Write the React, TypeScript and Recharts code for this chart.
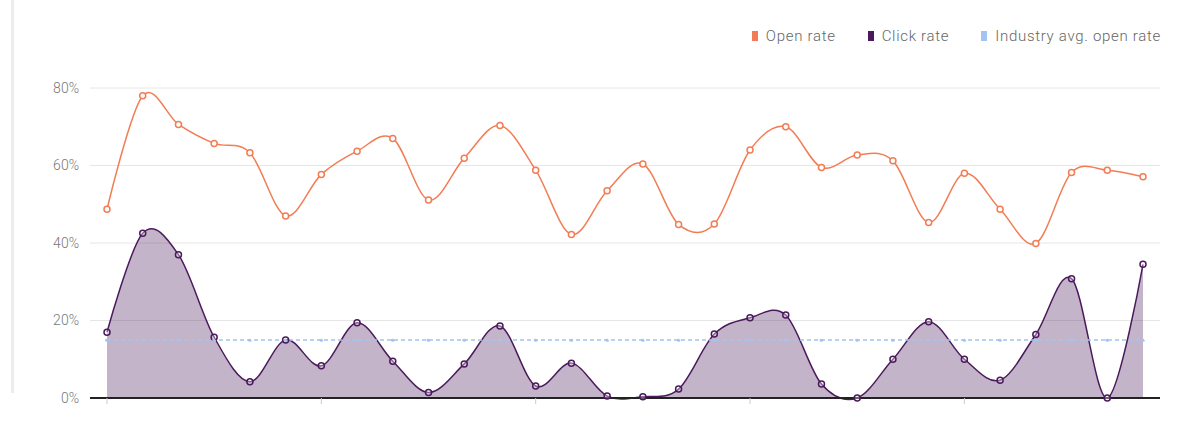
import React from 'react';
import { ComposedChart, Area, Line, XAxis, YAxis, CartesianGrid } from 'recharts';

const weeks = ['W1', 'W2', 'W3', 'W4', 'W5', 'W6', 'W7', 'W8', 'W9', 'W10', 'W11', 'W12', 'W13', 'W14', 'W15',
  'W16', 'W17', 'W18', 'W19', 'W20', 'W21', 'W22', 'W23', 'W24', 'W25', 'W26', 'W27', 'W28', 'W29', 'W30'];
const openRate = [48.7, 78, 70.6, 65.7, 63.3, 47, 57.7, 63.7, 67, 51.1, 61.9, 70.3, 58.8, 42.2, 53.5,
  60.4, 44.8, 44.9, 64, 70, 59.5, 62.7, 61.2, 45.3, 58, 48.7, 39.9, 58.2, 58.8, 57.1];
const clickRate = [17, 42.5, 37, 15.7, 4.2, 15, 8.3, 19.4, 9.5, 1.4, 8.8, 18.6, 3.1, 9, 0.5,
  0.3, 2.3, 16.5, 20.7, 21.4, 3.6, 0, 10, 19.7, 10, 4.6, 16.4, 30.8, 0, 34.5];
const industryAvg = [15, 15, 15, 15, 15, 15, 15, 15, 15, 15, 15, 15, 15, 15, 15,
  15, 15, 15, 15, 15, 15, 15, 15, 15, 15, 15, 15, 15, 15, 15];
const yTicks = [0, 20, 40, 60, 80];
const xTicks = ['W1', 'W7', 'W13', 'W19', 'W25'];

const ORANGE = '#f27d55';
const PURPLE = '#4b1a5c';
const BLUE = '#a3c4f0';

const data = weeks.map((w, i) => ({
  week: w,
  open: openRate[i],
  click: clickRate[i],
  industry: industryAvg[i],
}));

// cardinal spline (tension 0), same interface as a d3 curve
class Cardinal {
  _context: any; _k: number; _line: number = NaN; _point = 0;
  _x0 = NaN; _x1 = NaN; _x2 = NaN; _y0 = NaN; _y1 = NaN; _y2 = NaN;
  constructor(context: any, tension: number) {
    this._context = context;
    this._k = (1 - tension) / 6;
  }
  areaStart() { this._line = 0; }
  areaEnd() { this._line = NaN; }
  lineStart() {
    this._x0 = this._x1 = this._x2 = this._y0 = this._y1 = this._y2 = NaN;
    this._point = 0;
  }
  seg(x: number, y: number) {
    this._context.bezierCurveTo(
      this._x1 + this._k * (this._x2 - this._x0),
      this._y1 + this._k * (this._y2 - this._y0),
      this._x2 + this._k * (this._x1 - x),
      this._y2 + this._k * (this._y1 - y),
      this._x2, this._y2);
  }
  lineEnd() {
    switch (this._point) {
      case 2: this._context.lineTo(this._x2, this._y2); break;
      case 3: this.seg(this._x1, this._y1); break;
    }
    if (this._line || (this._line !== 0 && this._point === 1)) this._context.closePath();
    this._line = 1 - this._line;
  }
  point(x: number, y: number) {
    x = +x; y = +y;
    switch (this._point) {
      case 0: this._point = 1; this._line ? this._context.lineTo(x, y) : this._context.moveTo(x, y); break;
      case 1: this._point = 2; this._x1 = x; this._y1 = y; break;
      case 2: this._point = 3; this.seg(x, y); break;
      default: this.seg(x, y); break;
    }
    this._x0 = this._x1; this._x1 = this._x2; this._x2 = x;
    this._y0 = this._y1; this._y1 = this._y2; this._y2 = y;
  }
}
const smooth: any = (context: any) => new Cardinal(context, 0);

const legendItems = [
  { name: 'Open rate', color: ORANGE },
  { name: 'Click rate', color: PURPLE },
  { name: 'Industry avg. open rate', color: BLUE },
];

export default function App() {
  return (
    <div style={{ position: 'absolute', left: 0, top: 0, width: 1177, height: 421, background: '#fff', fontFamily: 'Roboto, sans-serif' }}>
      <div style={{ position: 'absolute', left: 11, top: 0, width: 3, height: 393, background: '#ececec' }} />
      <div style={{ position: 'absolute', right: 16, top: 27, display: 'flex', alignItems: 'center', gap: 32, fontSize: 15, fontWeight: 300, letterSpacing: 0.7, color: '#666' }}>
        {legendItems.map((it) => (
          <div key={it.name} style={{ display: 'flex', alignItems: 'center', gap: 8 }}>
            <span style={{ display: 'inline-block', width: 6, height: 10, background: it.color }} />
            <span>{it.name}</span>
          </div>
        ))}
      </div>
      <ComposedChart width={1177} height={421} data={data} margin={{ top: 88, right: 17, bottom: 13, left: 30 }}>
        <CartesianGrid vertical={false} stroke="#e6e6e6" />
        <XAxis dataKey="week" ticks={xTicks} tickFormatter={() => ''} height={10} padding={{ left: 17, right: 17 }}
          axisLine={{ stroke: '#222', strokeWidth: 2 }} tickLine={{ stroke: '#ccc' }} tickSize={6} />
        <YAxis domain={[0, 80]} ticks={yTicks} width={60} axisLine={false} tickLine={false} tickMargin={5}
          tickFormatter={(v) => `${v}%`} tick={{ fill: '#777', fontSize: 14, fontWeight: 300 }} />
        <Area dataKey="click" type={smooth} stroke={PURPLE} strokeWidth={1.5} fill={PURPLE} fillOpacity={0.33}
          dot={{ r: 3, fill: '#fff', stroke: PURPLE, strokeWidth: 1.5 }} isAnimationActive={false} />
        <Line dataKey="industry" stroke={BLUE} strokeWidth={1.5} strokeDasharray="4 3"
          dot={{ r: 1.2, fill: BLUE, stroke: BLUE }} isAnimationActive={false} />
        <Line dataKey="open" type={smooth} stroke={ORANGE} strokeWidth={1.5}
          dot={{ r: 3, fill: '#fff', stroke: ORANGE, strokeWidth: 1.5 }} isAnimationActive={false} />
      </ComposedChart>
    </div>
  );
}
